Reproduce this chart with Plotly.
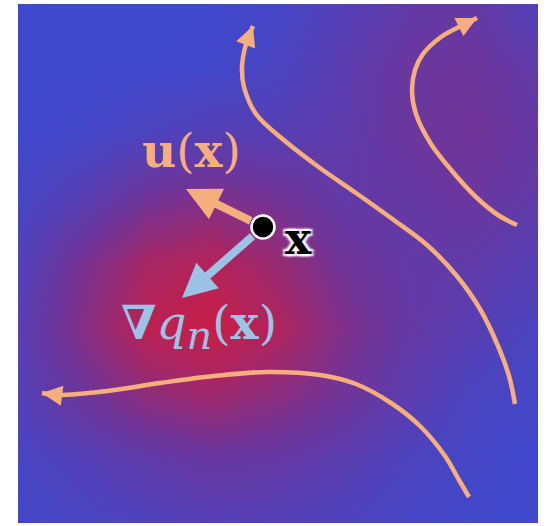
import plotly.graph_objects as go

# Field sample grid (relative pixel coordinates inside plot area), values 0=blue .. 1=red
grid_x = [0, 65, 130, 195, 260, 325, 390, 455, 520]
grid_y = [0, 65, 130, 195, 260, 325, 390, 455, 519]
field = [
    [0.00, 0.00, 0.00, 0.00, 0.05, 0.18, 0.32, 0.35, 0.15],
    [0.00, 0.00, 0.00, 0.02, 0.10, 0.25, 0.40, 0.42, 0.30],
    [0.00, 0.03, 0.12, 0.20, 0.22, 0.28, 0.40, 0.45, 0.35],
    [0.06, 0.22, 0.46, 0.56, 0.46, 0.32, 0.35, 0.40, 0.30],
    [0.15, 0.50, 0.80, 0.88, 0.70, 0.45, 0.32, 0.30, 0.20],
    [0.22, 0.58, 0.92, 1.00, 0.85, 0.55, 0.34, 0.22, 0.10],
    [0.18, 0.42, 0.65, 0.75, 0.62, 0.45, 0.26, 0.10, 0.04],
    [0.07, 0.18, 0.30, 0.38, 0.34, 0.25, 0.12, 0.05, 0.00],
    [0.03, 0.08, 0.14, 0.20, 0.18, 0.12, 0.06, 0.02, 0.00],
]

# Streamlines (last point is the arrow tip)
line1_x = [497, 491, 480, 462, 438, 409, 373, 338, 302, 267, 238, 226, 224, 228, 235]
line1_y = [400, 372, 342, 305, 271, 241, 214, 189, 164, 137, 110, 83, 63, 40, 22]
line2_x = [499, 480, 459, 434, 413, 398, 394, 397, 405, 423, 445, 459]
line2_y = [221, 211, 194, 167, 140, 110, 87, 66, 50, 33, 21, 14]
line3_x = [451, 441, 427, 402, 373, 338, 302, 249, 196, 142, 89, 39, 24]
line3_y = [493, 476, 452, 422, 399, 380, 371, 368, 372, 379, 387, 391, 389]
streamlines = [(line1_x, line1_y), (line2_x, line2_y), (line3_x, line3_y)]

# Point x and vectors
point_xy = (245, 223)
u_tip = (168, 185)
grad_tip = (164, 294)

# Labels
label_u = "<b>u</b>(<b>x</b>)"
label_u_pos = (173, 146)
label_grad = "<b>∇</b><i>q</i><sub><span style='font-size:40px'><i>n</i></span></sub>(<b>x</b>)"
label_grad_pos = (181, 322)
label_x = "<b>x</b>"
label_x_pos = (280, 234)

ORANGE = "#F5AF7D"
BLUE_L = "#9CC3E6"

fig = go.Figure()
fig.add_trace(go.Heatmap(
    x=grid_x, y=grid_y, z=field, zmin=0, zmax=1, zsmooth="best",
    colorscale=[[0, "rgb(64,72,204)"], [0.45, "rgb(112,52,152)"], [1, "rgb(200,30,70)"]],
    showscale=False, hoverinfo="skip",
))
for sx, sy in streamlines:
    fig.add_trace(go.Scatter(x=sx, y=sy, mode="lines",
                             line=dict(color=ORANGE, width=4.5, shape="spline"),
                             hoverinfo="skip", showlegend=False))
fig.add_trace(go.Scatter(x=[point_xy[0]], y=[point_xy[1]], mode="markers",
                         marker=dict(color="black", size=23, line=dict(color="white", width=2.5)),
                         hoverinfo="skip", showlegend=False))

ann = []
for sx, sy in streamlines:
    ann.append(dict(x=sx[-1], y=sy[-1], ax=sx[-2], ay=sy[-2], xref="x", yref="y",
                    axref="x", ayref="y", text="", showarrow=True, arrowhead=2,
                    arrowwidth=4.5, arrowsize=0.9, arrowcolor=ORANGE))
ann.append(dict(x=u_tip[0], y=u_tip[1], ax=point_xy[0], ay=point_xy[1], xref="x", yref="y",
                axref="x", ayref="y", text="", showarrow=True, arrowhead=2,
                arrowwidth=8, arrowsize=0.85, arrowcolor=ORANGE, startstandoff=12))
ann.append(dict(x=grad_tip[0], y=grad_tip[1], ax=point_xy[0], ay=point_xy[1], xref="x", yref="y",
                axref="x", ayref="y", text="", showarrow=True, arrowhead=2,
                arrowwidth=8, arrowsize=0.85, arrowcolor=BLUE_L, startstandoff=12))
ann.append(dict(x=label_u_pos[0], y=label_u_pos[1], xref="x", yref="y", text=label_u,
                showarrow=False, font=dict(family="DejaVu Serif", size=47, color=ORANGE)))
ann.append(dict(x=label_grad_pos[0], y=label_grad_pos[1], xref="x", yref="y", text=label_grad,
                showarrow=False, font=dict(family="DejaVu Serif", size=47, color=BLUE_L)))
ann.append(dict(x=label_x_pos[0], y=label_x_pos[1], xref="x", yref="y", text=label_x,
                showarrow=False,
                font=dict(family="DejaVu Serif", size=44, color="black",
                          shadow="2px 2px 2px white, -2px -2px 2px white, 2px -2px 2px white, -2px 2px 2px white, 0px 0px 4px white")))

fig.update_layout(
    width=558, height=526,
    margin=dict(l=18, r=20, t=4, b=3),
    paper_bgcolor="white", plot_bgcolor="white",
    xaxis=dict(range=[0, 520], visible=False, fixedrange=True),
    yaxis=dict(range=[519, 0], visible=False, fixedrange=True),
    annotations=ann, showlegend=False,
)
fig.write_html("out.html", config={"displayModeBar": False, "staticPlot": True},
               post_script="document.body.style.margin='0';")
